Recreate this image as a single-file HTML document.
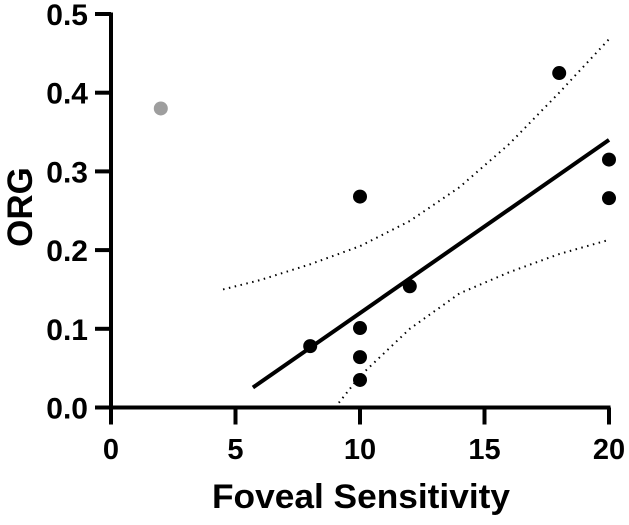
<!DOCTYPE html>
<html><head><meta charset="utf-8"><style>
html,body{margin:0;padding:0;background:#fff;}
svg text{font-family:"Liberation Sans",Arial,sans-serif;font-weight:bold;fill:#000;}
</style></head><body>
<svg id="chart" width="629" height="520" viewBox="0 0 629 520" xmlns="http://www.w3.org/2000/svg"></svg>
<script>
const xTicks=[0,5,10,15,20];
const yTicks=[0,0.1,0.2,0.3,0.4,0.5];
const yTickLabels=["0.0","0.1","0.2","0.3","0.4","0.5"];
const pointsX=[8,10,10,10,10,12,18,20,20];
const pointsY=[0.078,0.268,0.101,0.064,0.035,0.154,0.425,0.315,0.266];
const outlierX=[2];
const outlierY=[0.38];
const fitSlope=0.022;
const fitIntercept=-0.1;
const fitRange=[5.7,20];
const upperX=[4.5,6,8,10,12,14,16,18,20];
const upperY=[0.15,0.162,0.182,0.205,0.237,0.28,0.335,0.40,0.468];
const lowerX=[9,10,12,14,16,18,20];
const lowerY=[0.0,0.04,0.10,0.145,0.172,0.195,0.213];

const NS="http://www.w3.org/2000/svg";
const svg=document.getElementById('chart');
const X0=111,XS=24.9,Y0=407.5,YS=787;
function sx(v){return X0+v*XS;}
function sy(v){return Y0-v*YS;}
function mk(tag,attrs){const e=document.createElementNS(NS,tag);for(const k in attrs)e.setAttribute(k,attrs[k]);svg.appendChild(e);return e;}

let e;
e=mk('line',{x1:sx(0),y1:sy(0.5)-1.5,x2:sx(0),y2:sy(0)+1.5,stroke:'#000','stroke-width':4});


e=mk('line',{x1:sx(0)-1.5,y1:sy(0),x2:sx(20)+1.5,y2:sy(0),stroke:'#000','stroke-width':4});



yTicks.forEach((t,i)=>{
  e=mk('line',{x1:sx(0)-16,y1:sy(t),x2:sx(0),y2:sy(t),stroke:'#000','stroke-width':4});
  
  
  e=mk('text',{x:sx(0)-23,y:sy(t)+11,'text-anchor':'end','font-size':30});
  e.textContent=yTickLabels[i];
  
  
});
xTicks.forEach(t=>{
  e=mk('line',{x1:sx(t),y1:sy(0),x2:sx(t),y2:sy(0)+17,stroke:'#000','stroke-width':4});
  
  
  e=mk('text',{x:sx(t),y:459,'text-anchor':'middle','font-size':29});
  e.textContent=String(t);
  
  
});

function poly(xs,ys){return xs.map((x,i)=>sx(x)+','+sy(ys[i])).join(' ');}
e=mk('polyline',{points:poly(upperX,upperY),fill:'none',stroke:'#000','stroke-width':2,'stroke-dasharray':'1.5 4.5'});


e=mk('polyline',{points:poly(lowerX,lowerY),fill:'none',stroke:'#000','stroke-width':2,'stroke-dasharray':'1.5 4.5'});



e=mk('line',{x1:sx(fitRange[0]),y1:sy(fitIntercept+fitSlope*fitRange[0]),x2:sx(fitRange[1]),y2:sy(fitIntercept+fitSlope*fitRange[1]),stroke:'#000','stroke-width':4});



outlierX.forEach((x,i)=>{
  e=mk('circle',{cx:sx(x),cy:sy(outlierY[i]),r:7,fill:'#9e9e9e'});
  
  
});
pointsX.forEach((x,i)=>{
  e=mk('circle',{cx:sx(x),cy:sy(pointsY[i]),r:7,fill:'#000'});
  
  
});

e=mk('text',{x:212,y:508,'font-size':34,textLength:298,lengthAdjust:'spacingAndGlyphs'});
e.textContent='Foveal Sensitivity';


e=mk('text',{x:0,y:0,'font-size':35,'text-anchor':'middle',transform:'translate(32,207) rotate(-90)'});
e.textContent='ORG';


</script>
</body></html>
